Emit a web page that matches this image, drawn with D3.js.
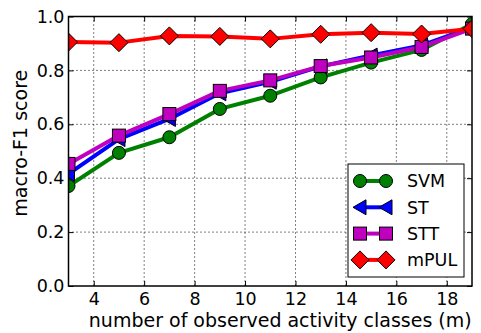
<!DOCTYPE html>
<html lang="en">
<head>
<meta charset="UTF-8">
<title>macro-F1 vs observed classes</title>
<script src="https://d3js.org/d3.v7.min.js"></script>
<style>
    body { margin: 0; background: #fff; }
    svg { font-family: "DejaVu Sans", sans-serif; }
    .grid line { stroke: #000; stroke-width: 1; stroke-dasharray: 1,3; }
</style>
</head>
<body>
<svg id="chart" width="481" height="333"></svg>
<script>
// observed activity classes
const classes = [3, 5, 7, 9, 11, 13, 15, 17, 19];

const svmScores  = [0.371, 0.494, 0.552, 0.657, 0.706, 0.774, 0.829, 0.876, 0.972];
const stScores   = [0.416, 0.545, 0.620, 0.715, 0.758, 0.815, 0.855, 0.893, 0.960];
const sttScores  = [0.453, 0.558, 0.638, 0.724, 0.763, 0.816, 0.848, 0.887, 0.955];
const mpulScores = [0.905, 0.903, 0.928, 0.926, 0.917, 0.934, 0.940, 0.935, 0.955];

const xTicks = [4, 6, 8, 10, 12, 14, 16, 18];
const yTicks = [0.0, 0.2, 0.4, 0.6, 0.8, 1.0];

const series = [
    { name: "SVM",  values: svmScores,  color: "#008000", marker: "circle" },
    { name: "ST",   values: stScores,   color: "#0000ff", marker: "triangle" },
    { name: "STT",  values: sttScores,  color: "#bf00bf", marker: "square" },
    { name: "mPUL", values: mpulScores, color: "#ff0000", marker: "diamond" }
];

const tickFont = 17.5;
const labelFont = 19;
const legendFont = 17.5;
const margin = { top: 16.5, right: 9, bottom: 47, left: 68.5 };
const width = 481 - margin.left - margin.right;
const height = 333 - margin.top - margin.bottom;

const svg = d3.select("#chart");
const g = svg.append("g").attr("transform", `translate(${margin.left},${margin.top})`);

const x = d3.scaleLinear().domain([3, 19]).range([0, width]);
const y = d3.scaleLinear().domain([0, 1]).range([height, 0]);

svg.append("defs").append("clipPath").attr("id", "clip")
    .append("rect").attr("width", width).attr("height", height);

// grid
g.append("g").attr("class", "grid")
    .selectAll("line").data(xTicks).enter().append("line")
    .attr("x1", d => x(d)).attr("x2", d => x(d))
    .attr("y1", 0).attr("y2", height);
g.append("g").attr("class", "grid")
    .selectAll("line").data(yTicks.slice(1, -1)).enter().append("line")
    .attr("x1", 0).attr("x2", width)
    .attr("y1", d => y(d)).attr("y2", d => y(d));

// axes (ticks inward, mirrored)
g.append("g").attr("transform", `translate(0,${height})`)
    .call(d3.axisBottom(x).tickValues(xTicks).tickSizeInner(-5).tickSizeOuter(0).tickPadding(7).tickFormat(d3.format("d")));
g.append("g")
    .call(d3.axisLeft(y).tickValues(yTicks).tickSizeInner(-5).tickSizeOuter(0).tickPadding(4).tickFormat(d3.format(".1f")));
g.append("g")
    .call(d3.axisTop(x).tickValues(xTicks).tickSizeInner(-5).tickSizeOuter(0).tickFormat(""));
g.append("g").attr("transform", `translate(${width},0)`)
    .call(d3.axisRight(y).tickValues(yTicks).tickSizeInner(-5).tickSizeOuter(0).tickFormat(""));
g.selectAll(".domain").remove();
g.selectAll(".tick line").attr("stroke", "#000");
g.selectAll(".tick text")
    .attr("font-family", "DejaVu Sans")
    .attr("font-size", tickFont)
    .attr("fill", "#000");

// lines and markers
const line = d3.line().x((d, i) => x(classes[i])).y(d => y(d));

function drawMarker(sel, type, color) {
    if (type === "circle") {
        sel.append("circle").attr("r", 6.5);
    } else if (type === "square") {
        sel.append("rect").attr("x", -6.5).attr("y", -6.5).attr("width", 13).attr("height", 13);
    } else if (type === "diamond") {
        sel.append("path").attr("d", "M0,-9L9,0L0,9L-9,0Z");
    } else if (type === "triangle") {
        sel.append("path").attr("d", "M-7,0L6,-7.5L6,7.5Z");
    }
    sel.selectAll("*").attr("fill", color).attr("stroke", "#000").attr("stroke-width", 1);
}

const plot = g.append("g").attr("clip-path", "url(#clip)");
series.forEach(s => {
    plot.append("path").datum(s.values)
        .attr("fill", "none").attr("stroke", s.color).attr("stroke-width", 4)
        .attr("stroke-linejoin", "round")
        .attr("d", line);
    s.values.forEach((v, i) => {
        const m = plot.append("g").attr("transform", `translate(${x(classes[i])},${y(v)})`);
        drawMarker(m, s.marker, s.color);
    });
});

// frame
g.append("rect").attr("width", width).attr("height", height)
    .attr("fill", "none").attr("stroke", "#000").attr("stroke-width", 1.5);

// axis labels
svg.append("text")
    .attr("x", margin.left + width / 2 + 10).attr("y", 327)
    .attr("text-anchor", "middle").attr("font-size", labelFont)
    .text("number of observed activity classes (m)");
svg.append("text")
    .attr("transform", `translate(27,${margin.top + height / 2 - 8}) rotate(-90)`)
    .attr("text-anchor", "middle").attr("font-size", labelFont)
    .text("macro-F1 score");

// legend
const legend = svg.append("g").attr("transform", "translate(348,164)");
legend.append("rect").attr("width", 116).attr("height", 113)
    .attr("fill", "#fff").attr("stroke", "#000").attr("stroke-width", 1);
series.forEach((s, i) => {
    const row = legend.append("g").attr("transform", `translate(0,${17 + i * 26.3})`);
    row.append("line").attr("x1", 12).attr("x2", 38)
        .attr("stroke", s.color).attr("stroke-width", 4);
    [12, 38].forEach(px => {
        const m = row.append("g").attr("transform", `translate(${px},0)`);
        drawMarker(m, s.marker, s.color);
    });
    row.append("text").attr("x", 59).attr("y", 6.3)
        .attr("font-size", legendFont).text(s.name);
});
</script>
</body>
</html>
